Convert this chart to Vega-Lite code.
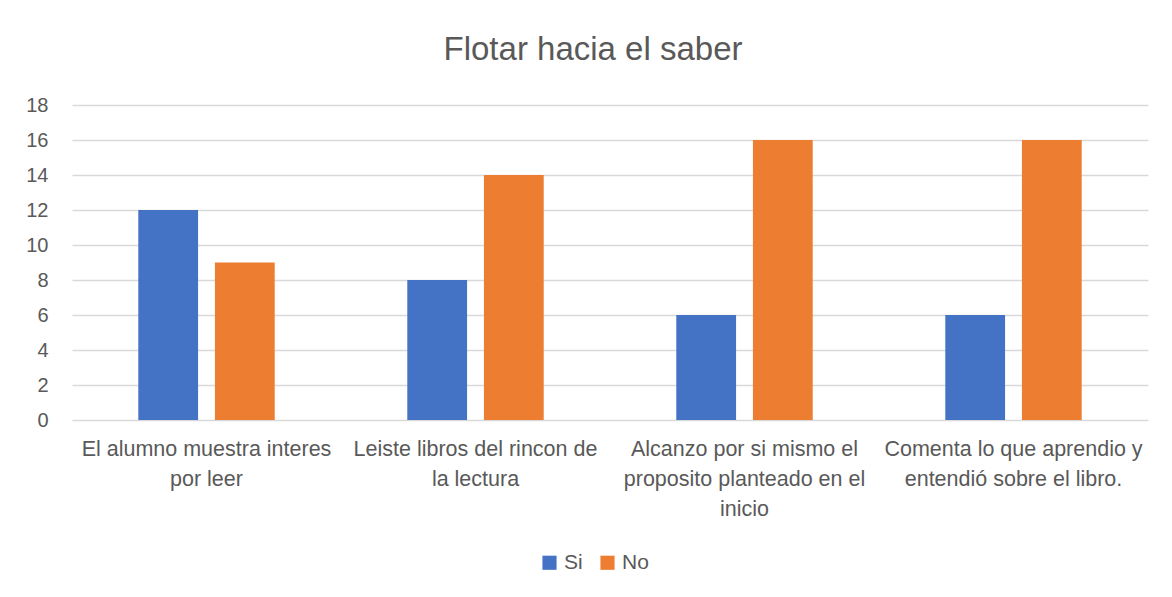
{
  "$schema": "https://vega.github.io/schema/vega-lite/v6.json",
  "autosize": {"type": "none"},
  "width": 1076,
  "height": 315,
  "padding": {"left": 72, "top": 105, "right": 24, "bottom": 177},
  "background": "white",
  "title": {
    "text": "Flotar hacia el saber",
    "fontSize": 33,
    "font": "Liberation Sans",
    "fontWeight": "normal",
    "color": "#595959",
    "anchor": "middle",
    "offset": 28,
    "dx": -17
  },
  "data": {
    "values": [
      {"pregunta": "El alumno muestra interes por leer", "respuesta": "Si", "valor": 12},
      {"pregunta": "El alumno muestra interes por leer", "respuesta": "No", "valor": 9},
      {"pregunta": "Leiste libros del rincon de la lectura", "respuesta": "Si", "valor": 8},
      {"pregunta": "Leiste libros del rincon de la lectura", "respuesta": "No", "valor": 14},
      {"pregunta": "Alcanzo por si mismo el proposito planteado en el inicio", "respuesta": "Si", "valor": 6},
      {"pregunta": "Alcanzo por si mismo el proposito planteado en el inicio", "respuesta": "No", "valor": 16},
      {"pregunta": "Comenta lo que aprendio y entendió sobre el libro.", "respuesta": "Si", "valor": 6},
      {"pregunta": "Comenta lo que aprendio y entendió sobre el libro.", "respuesta": "No", "valor": 16}
    ]
  },
  "mark": {"type": "bar"},
  "encoding": {
    "x": {
      "field": "pregunta",
      "type": "nominal",
      "sort": null,
      "scale": {"paddingInner": 0, "paddingOuter": 0},
      "axis": {
        "title": null,
        "labelAngle": 0,
        "ticks": false,
        "domain": false,
        "labelPadding": 29,
        "labelFontSize": 21.5,
        "labelFont": "Liberation Sans",
        "labelColor": "#595959",
        "labelLineHeight": 30,
        "labelBaseline": "middle",
        "labelLimit": 300,
        "labelExpr": "datum.value == 'El alumno muestra interes por leer' ? ['El alumno muestra interes', 'por leer'] : datum.value == 'Leiste libros del rincon de la lectura' ? ['Leiste libros del rincon de', 'la lectura'] : datum.value == 'Alcanzo por si mismo el proposito planteado en el inicio' ? ['Alcanzo por si mismo el', 'proposito planteado en el', 'inicio'] : ['Comenta lo que aprendio y', 'entendió sobre el libro.']"
      }
    },
    "xOffset": {
      "field": "respuesta",
      "type": "nominal",
      "sort": ["Si", "No"],
      "scale": {"paddingInner": 0.22, "paddingOuter": 0.865}
    },
    "y": {
      "field": "valor",
      "type": "quantitative",
      "scale": {"domain": [0, 18]},
      "axis": {
        "title": null,
        "values": [0, 2, 4, 6, 8, 10, 12, 14, 16, 18],
        "ticks": false,
        "domain": false,
        "labelPadding": 24,
        "labelFontSize": 20,
        "labelFont": "Liberation Sans",
        "labelColor": "#595959",
        "gridColor": "#d9d9d9",
        "gridWidth": 1.5
      }
    },
    "color": {
      "field": "respuesta",
      "type": "nominal",
      "sort": ["Si", "No"],
      "scale": {"domain": ["Si", "No"], "range": ["#4472c4", "#ed7d31"]},
      "legend": {
        "title": null,
        "orient": "none",
        "direction": "horizontal",
        "legendX": 467,
        "legendY": 447,
        "symbolType": "square",
        "symbolSize": 200,
        "symbolStrokeWidth": 0,
        "labelFontSize": 21,
        "labelFont": "Liberation Sans",
        "labelColor": "#595959",
        "columnPadding": 14,
        "labelOffset": 4
      }
    }
  },
  "config": {"view": {"stroke": null}}
}
